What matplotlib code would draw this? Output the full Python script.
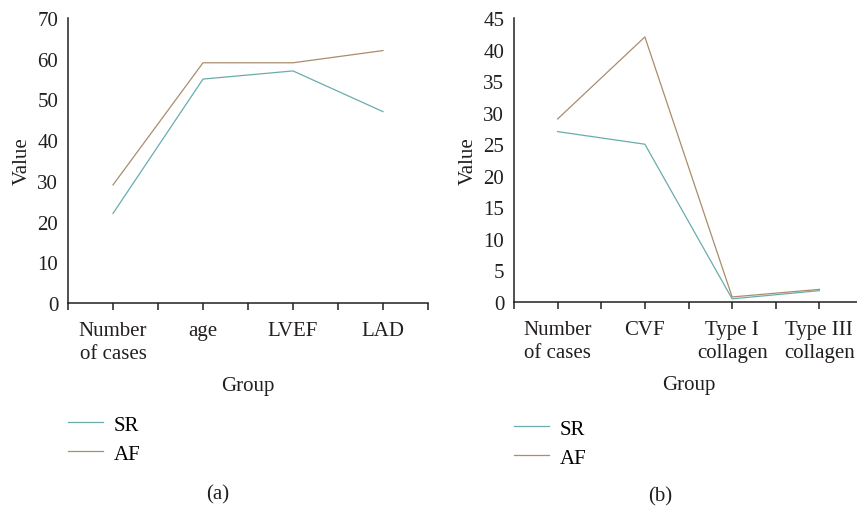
import numpy as np
import matplotlib
matplotlib.use("Agg")
import matplotlib.pyplot as plt

# panel (a) data
groups_a = ["Number\nof cases", "age", "LVEF", "LAD"]
sr_a = [22, 55, 57, 47]
af_a = [29, 59, 59, 62]

# panel (b) data
groups_b = ["Number\nof cases", "CVF", "Type I\ncollagen", "Type III\ncollagen"]
sr_b = [27, 25, 0.5, 1.8]
af_b = [29, 42, 0.8, 2.0]

SR_COL = "#6aacac"
AF_COL = "#a98d6c"
INK = "#231f20"

plt.rcParams["font.family"] = ["Liberation Serif", "DejaVu Serif"]
plt.rcParams["font.size"] = 15

fig = plt.figure(figsize=(8.57, 5.10), dpi=100)
W, H = 857, 510


def axes_px(l, t, r, b):
    return fig.add_axes([l / W, 1 - b / H, (r - l) / W, (b - t) / H])


def style(ax, labels, ymax, ystep):
    x = np.arange(len(labels))
    ax.set_xlim(-0.5, len(labels) - 0.5)
    ax.set_ylim(0, ymax)
    ax.set_yticks(np.arange(0, ymax + 0.1, ystep))
    ax.set_xticks(x)
    ax.set_xticklabels(labels, linespacing=1.3)
    ax.set_xticks(np.arange(-0.5, len(labels), 1.0), minor=True)
    for s in ["top", "right"]:
        ax.spines[s].set_visible(False)
    for s in ["left", "bottom"]:
        ax.spines[s].set_linewidth(1.1)
        ax.spines[s].set_color(INK)
        ax.spines[s].set_clip_on(False)
    ax.tick_params(axis="y", length=0, pad=7, colors=INK)
    ax.tick_params(axis="x", which="both", length=5, width=1.1,
                   direction="out", pad=8, colors=INK)
    ax.set_xlabel("Group", labelpad=9, color=INK)
    ax.set_ylabel("Value", labelpad=4, color=INK)


ax1 = axes_px(68, 19, 428, 304)
x1 = np.arange(len(groups_a))
ax1.plot(x1, sr_a, color=SR_COL, lw=0.9, label="SR", clip_on=False)
ax1.plot(x1, af_a, color=AF_COL, lw=0.9, label="AF", clip_on=False)
style(ax1, groups_a, 70, 10)

ax2 = axes_px(514, 19, 863, 303)
x2 = np.arange(len(groups_b))
ax2.plot(x2, sr_b, color=SR_COL, lw=0.9, label="SR", clip_on=False)
ax2.plot(x2, af_b, color=AF_COL, lw=0.9, label="AF", clip_on=False)
style(ax2, groups_b, 45, 5)

for ax, lx, ty in [(ax1, 68, 416), (ax2, 514, 420)]:
    h, l = ax.get_legend_handles_labels()
    fig.legend(h, l, loc="upper left", bbox_to_anchor=(lx / W, 1 - ty / H),
               frameon=False, borderpad=0, borderaxespad=0,
               handlelength=1.7, handletextpad=0.5, labelspacing=0.45)

fig.text(218 / W, 1 - 495 / H, "(a)", ha="center", va="center", color=INK)
fig.text(660 / W, 1 - 497 / H, "(b)", ha="center", va="center", color=INK)

fig.savefig("out.png", dpi=100)
